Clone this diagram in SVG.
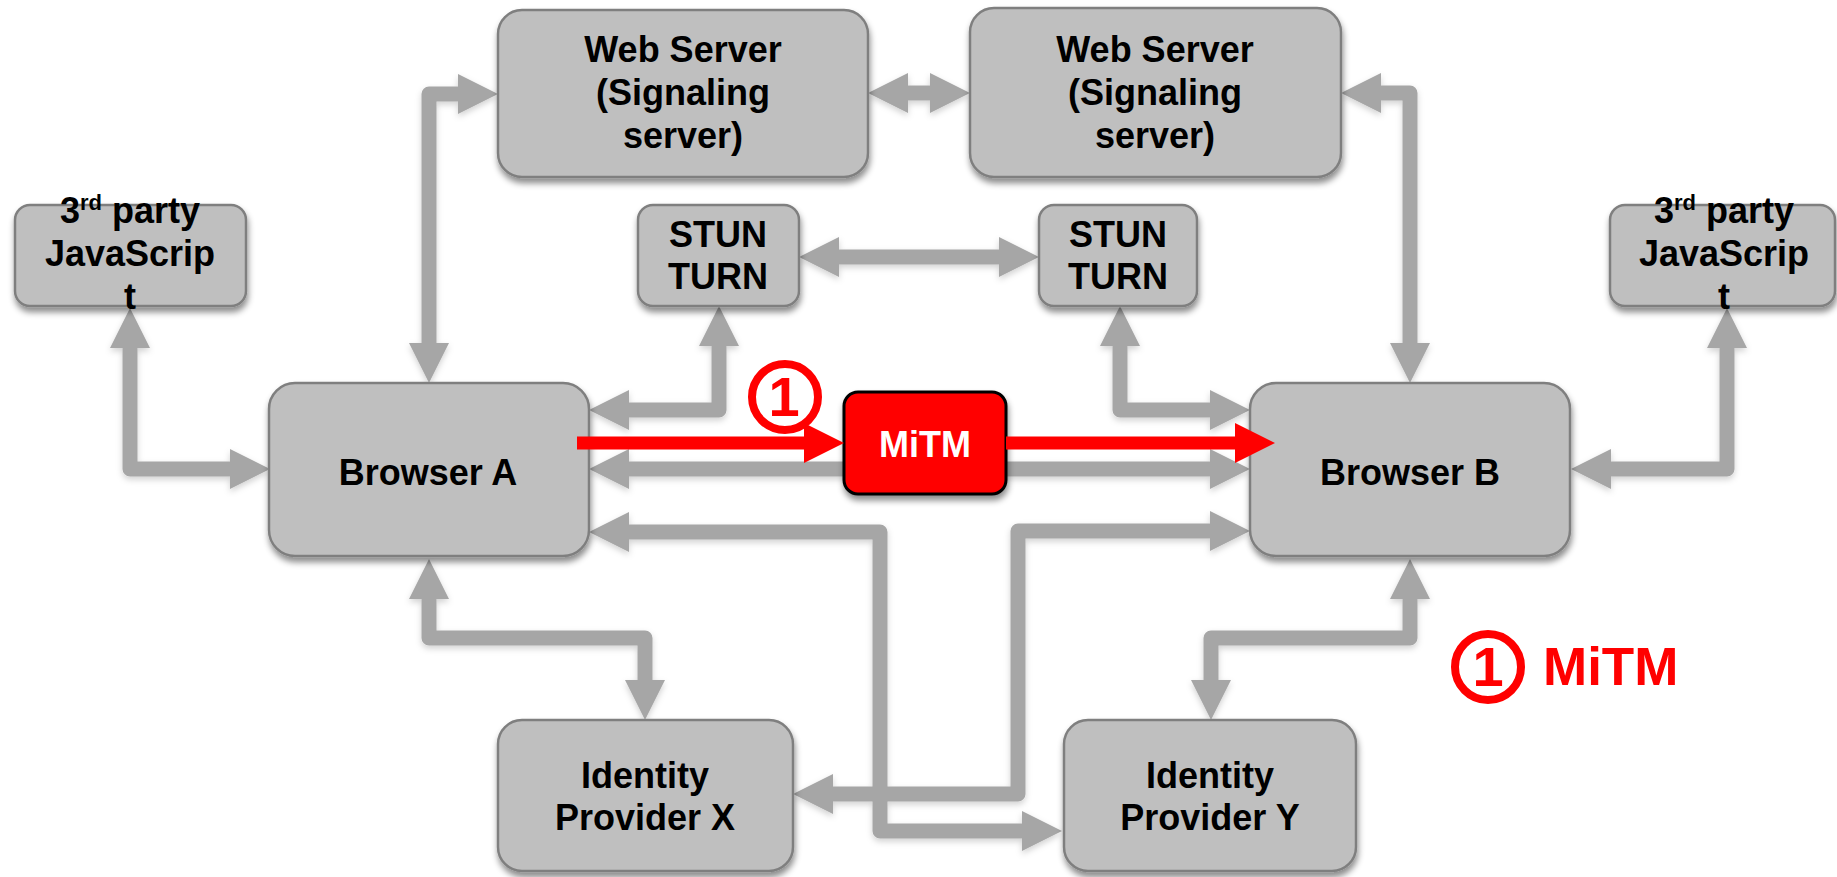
<svg xmlns="http://www.w3.org/2000/svg" width="1837" height="877" viewBox="0 0 1837 877">
  <style>
    .box { fill: #bfbfbf; stroke: #7f7f7f; stroke-width: 2.5; }
    .lbl { font-family: "Liberation Sans", Arial, sans-serif; font-weight: bold; font-size: 36px; fill: #000; text-anchor: middle; }
    .link { fill: none; stroke: #a6a6a6; stroke-width: 15; stroke-linejoin: round; }
    .attack { fill: none; stroke: #ff0000; stroke-width: 13; }
    .badge { fill: none; stroke: #ff0000; stroke-width: 8; }
    .badge-num { font-family: "Liberation Sans", Arial, sans-serif; font-weight: bold; font-size: 56px; fill: #ff0000; text-anchor: middle; }
  </style>
  <defs>
    <filter id="boxShadow" x="-10%" y="-10%" width="120%" height="130%">
      <feDropShadow dx="1" dy="5" stdDeviation="3" flood-color="#000" flood-opacity="0.45"/>
    </filter>
    <filter id="linkShadow" x="-5%" y="-5%" width="110%" height="115%">
      <feDropShadow dx="0" dy="3" stdDeviation="3" flood-color="#000" flood-opacity="0.18"/>
    </filter>
    <marker id="grayHead" viewBox="0 0 40 40" markerWidth="40" markerHeight="40" markerUnits="userSpaceOnUse" refX="2" refY="20" orient="auto-start-reverse">
      <path d="M0,0 L40,20 L0,40 Z" fill="#a6a6a6"/>
    </marker>
    <marker id="redHead" viewBox="0 0 40 40" markerWidth="40" markerHeight="40" markerUnits="userSpaceOnUse" refX="2" refY="20" orient="auto">
      <path d="M0,0 L40,20 L0,40 Z" fill="#ff0000"/>
    </marker>
  </defs>

  <rect width="1837" height="877" fill="#ffffff"/>

  <!-- gray two-way connectors -->
  <g id="connectors" filter="url(#linkShadow)">
    <path class="link" d="M 429 345 L 429 94 L 460 94" marker-start="url(#grayHead)" marker-end="url(#grayHead)"/>
    <path class="link" d="M 906 93 L 932 93" marker-start="url(#grayHead)" marker-end="url(#grayHead)"/>
    <path class="link" d="M 1379 93 L 1410 93 L 1410 345" marker-start="url(#grayHead)" marker-end="url(#grayHead)"/>
    <path class="link" d="M 837 257 L 1001 257" marker-start="url(#grayHead)" marker-end="url(#grayHead)"/>
    <path class="link" d="M 719 344 L 719 410 L 627 410" marker-start="url(#grayHead)" marker-end="url(#grayHead)"/>
    <path class="link" d="M 1120 344 L 1120 410 L 1212 410" marker-start="url(#grayHead)" marker-end="url(#grayHead)"/>
    <path class="link" d="M 130 346 L 130 469 L 232 469" marker-start="url(#grayHead)" marker-end="url(#grayHead)"/>
    <path class="link" d="M 1727 346 L 1727 469 L 1609 469" marker-start="url(#grayHead)" marker-end="url(#grayHead)"/>
    <path class="link" d="M 627 469 L 1212 469" marker-start="url(#grayHead)" marker-end="url(#grayHead)"/>
    <path class="link" d="M 627 532 L 880 532 L 880 831 L 1024 831" marker-start="url(#grayHead)" marker-end="url(#grayHead)"/>
    <path class="link" d="M 1212 531 L 1018 531 L 1018 794 L 831 794" marker-start="url(#grayHead)" marker-end="url(#grayHead)"/>
    <path class="link" d="M 429 597 L 429 638 L 645 638 L 645 682" marker-start="url(#grayHead)" marker-end="url(#grayHead)"/>
    <path class="link" d="M 1410 597 L 1410 638 L 1211 638 L 1211 682" marker-start="url(#grayHead)" marker-end="url(#grayHead)"/>
  </g>

  <!-- nodes -->
  <g id="web-server-a">
    <rect class="box" x="498" y="10" width="370" height="167" rx="24" filter="url(#boxShadow)"/>
    <text class="lbl" x="683" y="62">Web Server</text>
    <text class="lbl" x="683" y="105">(Signaling</text>
    <text class="lbl" x="683" y="148">server)</text>
  </g>
  <g id="web-server-b">
    <rect class="box" x="970" y="8" width="371" height="169" rx="24" filter="url(#boxShadow)"/>
    <text class="lbl" x="1155" y="62">Web Server</text>
    <text class="lbl" x="1155" y="105">(Signaling</text>
    <text class="lbl" x="1155" y="148">server)</text>
  </g>
  <g id="third-party-a">
    <rect class="box" x="15" y="205" width="231" height="101" rx="15" filter="url(#boxShadow)"/>
    <text class="lbl" x="130" y="223">3<tspan font-size="22" dy="-13">rd</tspan><tspan dy="13"> party</tspan></text>
    <text class="lbl" x="130" y="266">JavaScrip</text>
    <text class="lbl" x="130" y="309">t</text>
  </g>
  <g id="third-party-b">
    <rect class="box" x="1610" y="205" width="225" height="101" rx="15" filter="url(#boxShadow)"/>
    <text class="lbl" x="1724" y="223">3<tspan font-size="22" dy="-13">rd</tspan><tspan dy="13"> party</tspan></text>
    <text class="lbl" x="1724" y="266">JavaScrip</text>
    <text class="lbl" x="1724" y="309">t</text>
  </g>
  <g id="stun-turn-a">
    <rect class="box" x="638" y="205" width="161" height="101" rx="15" filter="url(#boxShadow)"/>
    <text class="lbl" x="718" y="247">STUN</text>
    <text class="lbl" x="718" y="289">TURN</text>
  </g>
  <g id="stun-turn-b">
    <rect class="box" x="1039" y="205" width="158" height="101" rx="15" filter="url(#boxShadow)"/>
    <text class="lbl" x="1118" y="247">STUN</text>
    <text class="lbl" x="1118" y="289">TURN</text>
  </g>
  <g id="browser-a">
    <rect class="box" x="269" y="383" width="320" height="173" rx="26" filter="url(#boxShadow)"/>
    <text class="lbl" x="428" y="485">Browser A</text>
  </g>
  <g id="browser-b">
    <rect class="box" x="1250" y="383" width="320" height="173" rx="26" filter="url(#boxShadow)"/>
    <text class="lbl" x="1410" y="485">Browser B</text>
  </g>
  <g id="identity-provider-x">
    <rect class="box" x="498" y="720" width="295" height="151" rx="24" filter="url(#boxShadow)"/>
    <text class="lbl" x="645" y="788">Identity</text>
    <text class="lbl" x="645" y="830">Provider X</text>
  </g>
  <g id="identity-provider-y">
    <rect class="box" x="1064" y="720" width="292" height="151" rx="24" filter="url(#boxShadow)"/>
    <text class="lbl" x="1210" y="788">Identity</text>
    <text class="lbl" x="1210" y="830">Provider Y</text>
  </g>
  <g id="mitm">
    <rect x="844" y="392" width="162" height="102" rx="14" fill="#ff0000" stroke="#000" stroke-width="3" filter="url(#boxShadow)"/>
    <text class="lbl" x="925" y="457" fill="#ffffff" style="fill:#ffffff">MiTM</text>
  </g>

  <!-- intercepted path through the attacker -->
  <g id="attack-path">
    <path class="attack" d="M 577 443 L 806 443" marker-end="url(#redHead)"/>
    <path class="attack" d="M 1006 443 L 1237 443" marker-end="url(#redHead)"/>
  </g>

  <g id="badge-1">
    <circle class="badge" cx="785" cy="397" r="33"/>
    <text class="badge-num" x="784" y="416">1</text>
  </g>

  <g id="legend">
    <circle class="badge" cx="1488" cy="667" r="33"/>
    <text class="badge-num" x="1488" y="686">1</text>
    <text x="1543" y="685" font-family="Liberation Sans, Arial, sans-serif" font-weight="bold" font-size="53" fill="#ff0000">MiTM</text>
  </g>
</svg>
